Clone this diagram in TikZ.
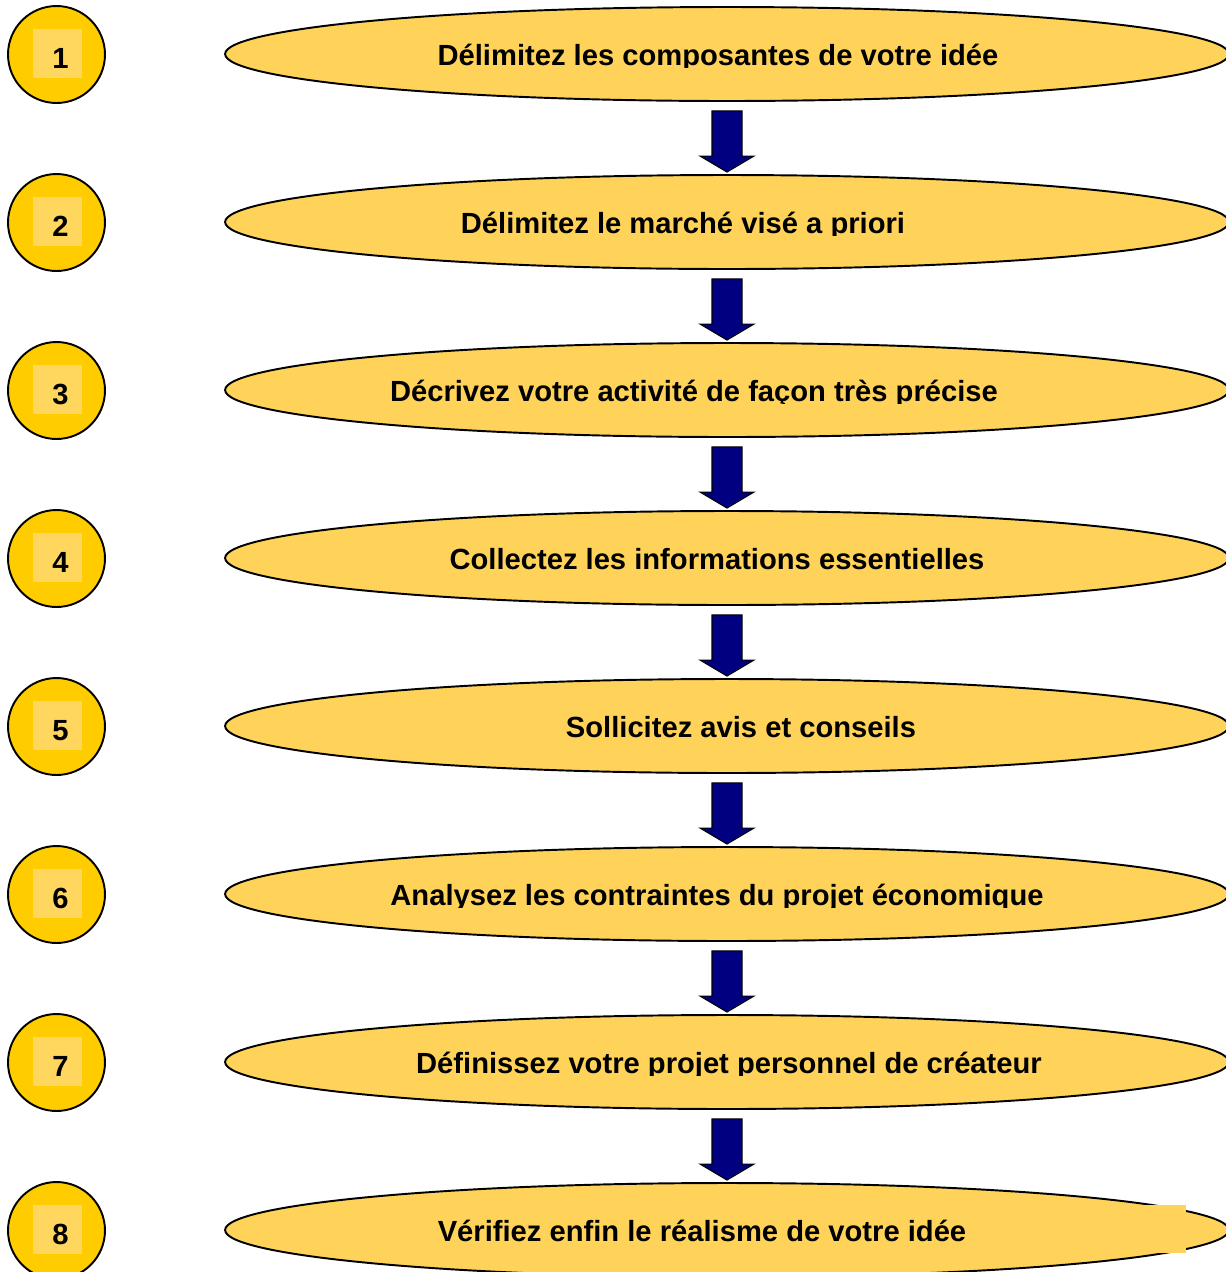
\documentclass[tikz,border=0pt]{standalone}
\usepackage{fontspec}
\setmainfont{Liberation Sans}
\usetikzlibrary{calc,shapes.geometric}

\definecolor{jauneRond}{HTML}{FFCC00}
\definecolor{jauneEtape}{HTML}{FFD35A}
\definecolor{jauneCase}{HTML}{FFD75E}
\definecolor{bleuFleche}{HTML}{000080}

\tikzset{
  rond/.style={circle, draw=black, line width=1.1pt, fill=jauneRond, minimum size=1.94cm, inner sep=0pt},
  etape/.style={ellipse, draw=black, line width=1.1pt, fill=jauneEtape, minimum width=20.08cm, minimum height=1.88cm, inner sep=0pt},
  texte/.style={font=\fontsize{16.6}{19}\selectfont\bfseries, anchor=base, inner sep=0pt},
  fleche/.style={fill=bleuFleche, draw=black, line width=0.6pt}
}

\begin{document}
\begin{tikzpicture}[x=0.02cm,y=-0.02cm]
\useasboundingbox (0,0) rectangle (1226,1272);
\clip (0,0) rectangle (1226,1272);

% Etapes
  \foreach \i/\xt/\txt in {1/718/{Délimitez les composantes de votre idée},
                           2/683/{Délimitez le marché visé a priori},
                           3/694/{Décrivez votre activité de façon très précise},
                           4/717/{Collectez les informations essentielles},
                           5/741/{Sollicitez avis et conseils},
                           6/717/{Analysez les contraintes du projet économique},
                           7/729/{Définissez votre projet personnel de créateur},
                           8/702/{Vérifiez enfin le réalisme de votre idée}}
  {
    \pgfmathsetmacro{\yc}{54+168*(\i-1)}
    \node[rond] (n\i) at (56.5,\yc+0.5) {};
    \fill[jauneCase] (33,\yc-25) rectangle (82,\yc+24);
    \node[texte] (c\i) at (60.5,\yc+14) {\i};
    \node[etape] (e\i) at (727,\yc) {};
    \begin{scope}
      \clip (230,\yc-40) rectangle (1226,\yc+13);
      \node[texte] (t\i) at (\xt,\yc+11) {\txt};
    \end{scope}
  }

% Fleches
  \foreach \i [evaluate=\i as \j using int(\i+1)] in {1,...,7}
  {
    \coordinate (h\i) at ($(e\i.south)+(0,9)$);
    \coordinate (p\i) at ($(e\j.north)+(0,-2)$);
    \draw[fleche] ($(h\i)+(-15,0)$) -- ($(h\i)+(15,0)$) -- ($(p\i)+(15,-16)$)
      -- ($(p\i)+(27,-16)$) -- (p\i) -- ($(p\i)+(-27,-16)$) -- ($(p\i)+(-15,-16)$) -- cycle;
  }

% Case en trop sur la derniere etape
  \fill[jauneEtape] (1120,1205) rectangle (1186,1253);

\end{tikzpicture}
\end{document}
